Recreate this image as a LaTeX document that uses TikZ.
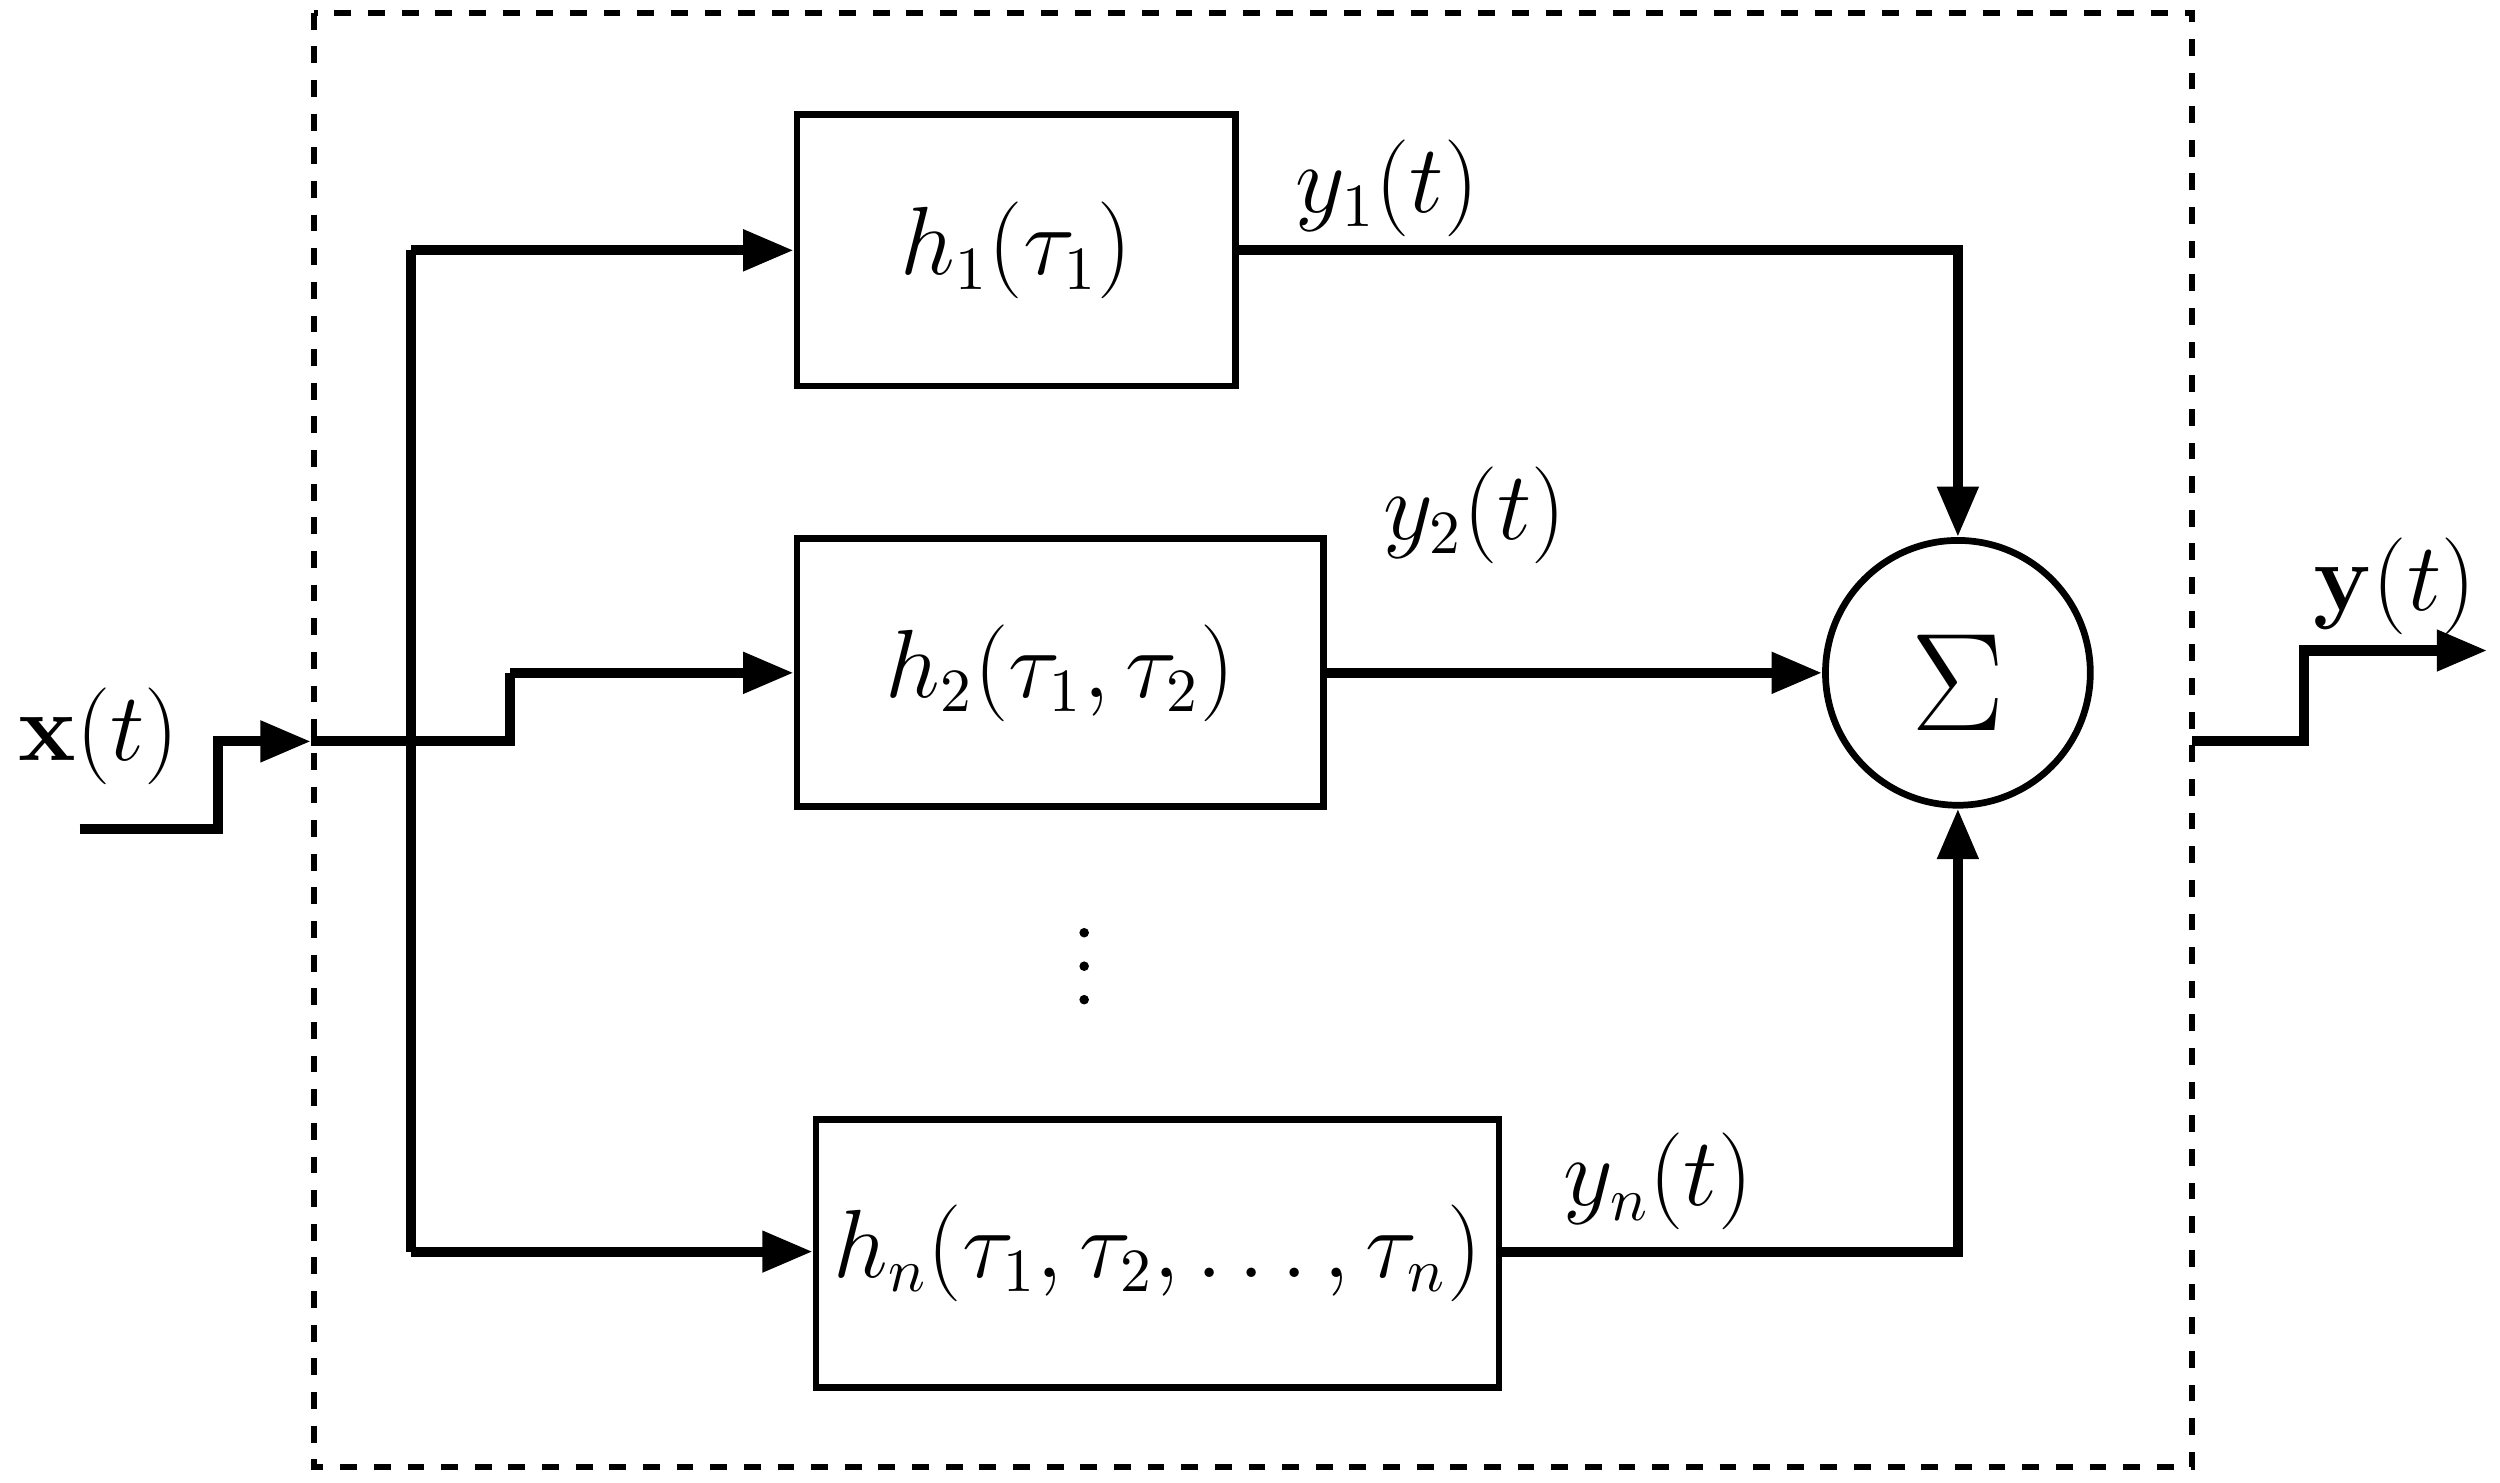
\documentclass[tikz,border=0pt]{standalone}
\usepackage{amsmath}
\usetikzlibrary{arrows.meta}
\begin{document}
\begin{tikzpicture}[x=0.01cm,y=-0.01cm,
  blk/.style={draw,line width=1.2pt,inner sep=0pt},
  ln/.style={line width=1.8pt},
  arr/.style={ln,-{Triangle[length=9pt,width=7pt]}},
  lab/.style={font=\fontsize{16}{19}\selectfont}]
\useasboundingbox (0,0) rectangle (1568,930);
\draw[dashed,line width=1pt] (197,8) rectangle (1375,920);
\node[blk,minimum width=2.75cm,minimum height=1.7cm] (b1) at (637.5,157) {};
\node[lab] at (b1) {$h_1(\tau_1)$};
\node[blk,minimum width=3.3cm,minimum height=1.68cm] (b2) at (665,422) {};
\node[lab] at (b2) {$h_2(\tau_1,\tau_2)$};
\node[blk,minimum width=4.28cm,minimum height=1.68cm] (b3) at (726,786) {};
\node[lab] at (b3) {$h_n(\tau_1,\tau_2,\ldots,\tau_n)$};
\node[draw,circle,line width=1.2pt,minimum size=1.66cm,inner sep=0pt] (s) at (1228,422) {};
\node[font=\fontsize{34}{38}\selectfont] at (1228,428) {$\Sigma$};
\coordinate (in0) at (50,520); \coordinate (in1) at (195,465);
\coordinate (out0) at (1375,465); \coordinate (out1) at (1560,408);
\draw[arr] (in0) -- (137,520) -- (137,465) -- (in1);
\draw[ln] (in1) -- (320,465) -- (320,422);
\draw[arr] (320,422) -- (b2.west);
\draw[ln] (258,157) -- (258,785);
\draw[arr] (258,157) -- (b1.west|-0,157);
\draw[arr] (258,785) -- (b3.west|-0,785);
\draw[arr] (b1.east|-0,157) -- (1228,157) -- (s.north);
\draw[arr] (b2.east) -- (s.west);
\draw[arr] (b3.east|-0,785) -- (1228,785) -- (s.south);
\draw[arr] (out0) -- (1445,465) -- (1445,408) -- (out1);
\node[lab] at (62,462) {$\mathbf{x}(t)$};
\node[lab] at (1502,368) {$\mathbf{y}(t)$};
\node[lab] at (870,118) {$y_1(t)$};
\node[lab] at (925,323) {$y_2(t)$};
\node[lab] at (1040,741) {$y_n(t)$};
\foreach \yy in {585,606,627} \fill (680,\yy) circle (3);
\end{tikzpicture}
\end{document}
